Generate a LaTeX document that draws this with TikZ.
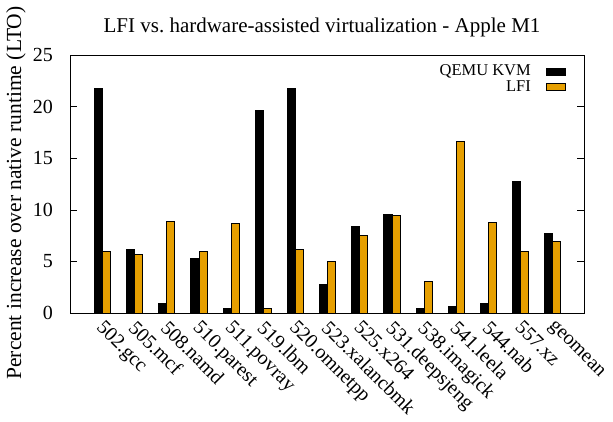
\documentclass[tikz,border=0pt]{standalone}
\usepackage{fontspec}
\setmainfont{Liberation Serif}
\definecolor{lfiorange}{HTML}{E69F00}
\begin{document}
\begin{tikzpicture}[x=1pt,y=-1pt,
  ticklbl/.style={font=\fontsize{20}{20}\selectfont, inner sep=0pt},
  xlbl/.style={font=\fontsize{20}{20}\selectfont, inner sep=0pt},
  leglbl/.style={font=\fontsize{16.5}{16.5}\selectfont, inner sep=0pt},
  kvmbar/.style={fill=black, draw=black, line width=0.5pt},
  lfibar/.style={fill=lfiorange, draw=black, line width=0.6pt},
  frame/.style={draw=black, line width=0.8pt},
  tick/.style={draw=black, line width=0.5pt}]
\useasboundingbox (0,0) rectangle (613,421);
% frame
\draw[frame] (70,55) rectangle (584,313);
% y ticks
\foreach \v in {0,5,10,15,20,25}{
  \pgfmathsetmacro{\yy}{313-\v*10.32}
  \draw[tick] (70,\yy) -- (77,\yy);
  \draw[tick] (584,\yy) -- (577,\yy);
  \node[ticklbl, anchor=east] (yt\v) at (53,\yy) {\v};
}
% title
\node[font=\fontsize{21}{21}\selectfont, inner sep=0pt] (title) at (322,27) {LFI vs.\ hardware-assisted virtualization - Apple M1};
% y label
\node[font=\fontsize{21.5}{21.5}\selectfont, inner sep=0pt, rotate=90] (ylab) at (16,193) {Percent increase over native runtime (LTO)};
% bars
\foreach \i/\k/\l/\name in {0/21.8/5.95/502.gcc, 1/6.2/5.68/505.mcf, 2/0.9/8.88/508.namd, 3/5.3/5.97/510.parest, 4/0.45/8.72/511.povray, 5/19.67/0.45/519.lbm, 6/21.8/6.17/520.omnetpp, 7/2.81/5.0/523.xalancbmk, 8/8.4/7.53/525.x264, 9/9.53/9.5/531.deepsjeng, 10/0.42/3.1/538.imagick, 11/0.68/16.67/541.leela, 12/0.97/8.82/544.nab, 13/12.79/6.0/557.xz, 14/7.75/6.98/geomean}{
  \pgfmathsetmacro{\cx}{102.3+32.17*\i}
  \pgfmathsetmacro{\kt}{313-\k*10.32}
  \pgfmathsetmacro{\lt}{313-\l*10.32}
  \draw[kvmbar] (\cx-8.2,313) rectangle (\cx,\kt);
  \draw[lfibar] (\cx,313) rectangle (\cx+8,\lt);
  \node[xlbl, rotate=-45, anchor=north west] (x\i) at (\cx+3,319) {\name};
}
% legend
\node[leglbl, anchor=east] (legk) at (531,71.5) {QEMU KVM};
\node[leglbl, anchor=east] (legl) at (531,86.5) {LFI};
\draw[kvmbar] (546,68) rectangle (565,75);
\draw[lfibar] (546,83) rectangle (565,90);
\end{tikzpicture}
\end{document}
